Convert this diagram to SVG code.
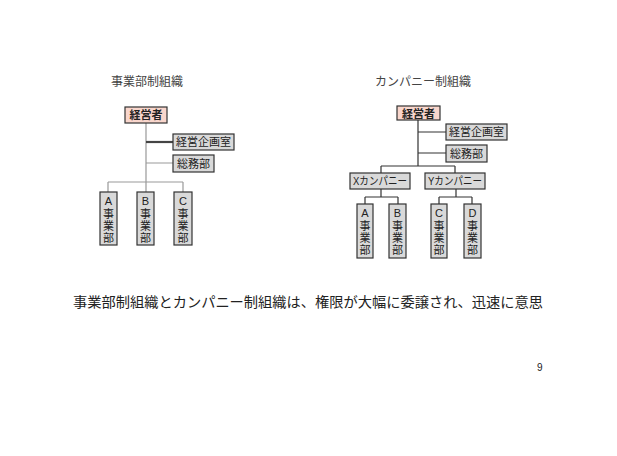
<svg xmlns="http://www.w3.org/2000/svg" width="617" height="456" viewBox="0 0 617 456">
<style>
text{font-family:"Liberation Sans","Noto Sans CJK JP",sans-serif;fill:#222}
.t{font-size:12px;fill:#444}
.b{font-size:11px;text-anchor:middle}
.v{font-size:11px;text-anchor:middle}
.box{fill:#d9d9d9;stroke:#333;stroke-width:1.2}
.pink{fill:#f9d6cc;stroke:#333;stroke-width:1.2}
.ln{fill:none;stroke:#333;stroke-width:1.2}
.lg{fill:none;stroke:#999;stroke-width:1.2}
</style>
<rect width="617" height="456" fill="#fff"/>
<text class="t" x="111" y="86">事業部制組織</text>
<text class="t" x="375" y="86">カンパニー制組織</text>
<g id="connectors">
<path class="lg" d="M146 123V182M108 182H183M108 182V192M146 182V192M183 182V192M146 163H173"/>
<path d="M146 142H173" stroke="#444" stroke-width="2.2" fill="none"/>
<path class="ln" d="M418 120V166M418 132H446M418 153H446M381 166H455M381 166V173M455 166V173M381 189V197M365 197H398M365 197V204M398 197V204M456 189V197M439 197H472M439 197V204M472 197V204"/>
</g>
<g id="L-ceo"><rect class="pink" x="125" y="107" width="42" height="16"/><text class="b" x="146" y="119" font-weight="bold">経営者</text></g>
<g id="L-plan"><rect class="box" x="173" y="134" width="61" height="16"/><text class="b" x="203.5" y="146">経営企画室</text></g>
<g id="L-gen"><rect class="box" x="173" y="155" width="41" height="17"/><text class="b" x="193.5" y="167.5">総務部</text></g>
<g id="L-A"><rect class="box" x="100" y="192" width="17" height="53"/><text class="v" x="108.5" y="205">A</text><text class="v" x="108.5" y="218">事</text><text class="v" x="108.5" y="230">業</text><text class="v" x="108.5" y="242">部</text></g>
<g id="L-B"><rect class="box" x="137" y="192" width="17" height="53"/><text class="v" x="145.5" y="205">B</text><text class="v" x="145.5" y="218">事</text><text class="v" x="145.5" y="230">業</text><text class="v" x="145.5" y="242">部</text></g>
<g id="L-C"><rect class="box" x="174" y="192" width="18" height="53"/><text class="v" x="183" y="205">C</text><text class="v" x="183" y="218">事</text><text class="v" x="183" y="230">業</text><text class="v" x="183" y="242">部</text></g>
<g id="R-ceo"><rect class="pink" x="397" y="106" width="43" height="14"/><text class="b" x="418.5" y="117.5" font-weight="bold">経営者</text></g>
<g id="R-plan"><rect class="box" x="446" y="124" width="61" height="16"/><text class="b" x="476.5" y="136">経営企画室</text></g>
<g id="R-gen"><rect class="box" x="446" y="145" width="41" height="17"/><text class="b" x="466.5" y="157.5">総務部</text></g>
<g id="R-X"><rect class="box" x="350" y="173" width="60" height="16"/><text class="b" x="380" y="185" font-size="10" textLength="54" lengthAdjust="spacingAndGlyphs">Xカンパニー</text></g>
<g id="R-Y"><rect class="box" x="425" y="173" width="60" height="16"/><text class="b" x="455" y="185" font-size="10" textLength="54" lengthAdjust="spacingAndGlyphs">Yカンパニー</text></g>
<g id="R-A"><rect class="box" x="357" y="204" width="16" height="54"/><text class="v" x="365" y="217">A</text><text class="v" x="365" y="230">事</text><text class="v" x="365" y="242">業</text><text class="v" x="365" y="254">部</text></g>
<g id="R-B"><rect class="box" x="389" y="204" width="17" height="54"/><text class="v" x="397.5" y="217">B</text><text class="v" x="397.5" y="230">事</text><text class="v" x="397.5" y="242">業</text><text class="v" x="397.5" y="254">部</text></g>
<g id="R-C"><rect class="box" x="431" y="204" width="16" height="54"/><text class="v" x="439" y="217">C</text><text class="v" x="439" y="230">事</text><text class="v" x="439" y="242">業</text><text class="v" x="439" y="254">部</text></g>
<g id="R-D"><rect class="box" x="464" y="204" width="17" height="54"/><text class="v" x="472.5" y="217">D</text><text class="v" x="472.5" y="230">事</text><text class="v" x="472.5" y="242">業</text><text class="v" x="472.5" y="254">部</text></g>
<text x="73" y="307" font-size="14.2" textLength="470" lengthAdjust="spacingAndGlyphs">事業部制組織とカンパニー制組織は、権限が大幅に委譲され、迅速に意思</text>
<text x="537" y="371" font-size="10">9</text>
</svg>
